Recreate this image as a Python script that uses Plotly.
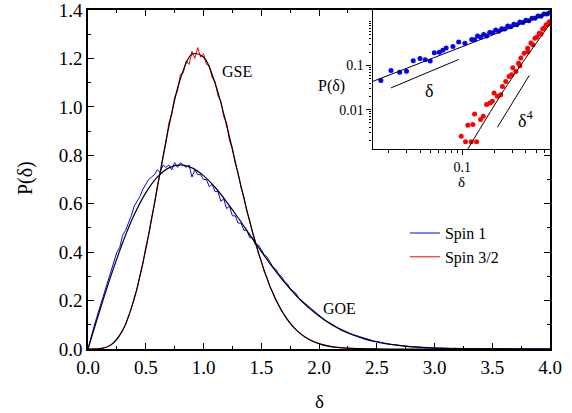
import numpy as np
import plotly.graph_objects as go

# ---------------- main panel data ----------------
bin_step = 0.025
spin1_hist = [
    0.00, 0.05, 0.09, 0.13, 0.17, 0.21, 0.25, 0.29, 0.33, 0.36,
    0.40, 0.42, 0.47, 0.49, 0.52, 0.55, 0.59, 0.61, 0.63, 0.66,
    0.68, 0.70, 0.71, 0.72, 0.74, 0.73, 0.76, 0.75, 0.76, 0.74,
    0.77, 0.75, 0.77, 0.76, 0.75, 0.76, 0.71, 0.74, 0.72, 0.72,
    0.70, 0.70, 0.67, 0.68, 0.65, 0.65, 0.61, 0.62, 0.58, 0.59,
    0.55, 0.55, 0.52, 0.52, 0.49, 0.49, 0.46, 0.46, 0.43, 0.43,
    0.41, 0.39, 0.38, 0.36, 0.34, 0.33, 0.31, 0.30, 0.28, 0.27,
    0.25, 0.24, 0.23, 0.21, 0.20, 0.19, 0.18, 0.17, 0.16, 0.148,
    0.139, 0.13, 0.12, 0.113, 0.105, 0.098, 0.092, 0.085, 0.079, 0.073,
    0.068, 0.063, 0.059, 0.055, 0.050, 0.047, 0.043, 0.039, 0.036, 0.033,
    0.031, 0.028, 0.026, 0.023, 0.021, 0.019, 0.018, 0.016, 0.015, 0.013,
    0.012, 0.011, 0.010, 0.009, 0.008, 0.007, 0.007, 0.006, 0.005, 0.005,
    0.004, 0.004, 0.004, 0.003, 0.003, 0.003, 0.002, 0.003, 0.002, 0.002,
    0.002, 0.001, 0.002, 0.001, 0.001, 0.001, 0.001, 0.001, 0.001, 0.000,
    0.001, 0.000, 0.000, 0.001, 0.000, 0.000, 0.000, 0.000, 0.000, 0.000,
    0.000, 0.000, 0.000, 0.000, 0.000, 0.000, 0.000, 0.000, 0.000, 0.000,
    0.000,
]
spin32_hist = [
    0.000, 0.000, 0.000, 0.001, 0.002, 0.004, 0.006, 0.012, 0.018, 0.030,
    0.041, 0.058, 0.080, 0.100, 0.136, 0.165, 0.212, 0.248, 0.305, 0.352,
    0.420, 0.470, 0.540, 0.595, 0.672, 0.730, 0.800, 0.850, 0.935, 0.968,
    1.040, 1.065, 1.135, 1.140, 1.190, 1.175, 1.230, 1.200, 1.245, 1.205,
    1.220, 1.175, 1.170, 1.120, 1.105, 1.045, 1.025, 0.960, 0.935, 0.860,
    0.830, 0.765, 0.728, 0.665, 0.628, 0.568, 0.532, 0.476, 0.444, 0.394,
    0.365, 0.320, 0.295, 0.256, 0.235, 0.202, 0.184, 0.157, 0.142, 0.120,
    0.108, 0.090, 0.081, 0.067, 0.060, 0.049, 0.044, 0.035, 0.031, 0.025,
    0.022, 0.018, 0.015, 0.013, 0.010, 0.009, 0.007, 0.006, 0.005, 0.004,
    0.003, 0.002, 0.002, 0.001, 0.001, 0.001, 0.001, 0.000, 0.000, 0.000,
    0.000,
]
theory_step = 0.1
goe_curve = [
    0.000, 0.156, 0.304, 0.439, 0.554, 0.645, 0.710, 0.748, 0.760, 0.748,
    0.716, 0.668, 0.608, 0.542, 0.472, 0.403, 0.337, 0.276, 0.222, 0.175,
    0.136, 0.103, 0.077, 0.057, 0.041, 0.029, 0.020, 0.014, 0.009, 0.006,
    0.004, 0.0026, 0.0016, 0.0010, 0.0006, 0.0003, 0.0002, 0.0001, 0.0, 0.0,
    0.0,
]
gse_curve = [
    0.000, 0.001, 0.017, 0.077, 0.207, 0.412, 0.665, 0.918, 1.116, 1.217,
    1.206, 1.098, 0.924, 0.722, 0.527, 0.361, 0.231, 0.140, 0.080, 0.043,
    0.022, 0.010, 0.005, 0.002, 0.001, 0.0003, 0.0, 0.0, 0.0, 0.0,
    0.0, 0.0, 0.0, 0.0, 0.0, 0.0, 0.0, 0.0, 0.0, 0.0,
    0.0,
]
main_xticks = [0.0, 0.5, 1.0, 1.5, 2.0, 2.5, 3.0, 3.5, 4.0]
main_yticks = [0.0, 0.2, 0.4, 0.6, 0.8, 1.0, 1.2, 1.4]

# ---------------- inset data (log-log) ----------------
inset_spin1_d = [0.0170, 0.0212, 0.0256, 0.0297, 0.0344, 0.0399, 0.0447, 0.0498,
                 0.0545, 0.0608, 0.0655, 0.0705, 0.0817, 0.0926, 0.106, 0.123,
                 0.1310, 0.1398, 0.1494, 0.1596, 0.1703, 0.1820, 0.1943, 0.2075,
                 0.2217, 0.2367, 0.2529, 0.2700, 0.2884, 0.3080, 0.3289, 0.3513,
                 0.3752, 0.4007, 0.4279, 0.4571, 0.4882, 0.5213, 0.5568, 0.5946,
                 0.6351, 0.6711]
inset_spin1_p = [0.0456, 0.0771, 0.0706, 0.0743, 0.128, 0.143, 0.135, 0.126,
                 0.194, 0.200, 0.220, 0.250, 0.270, 0.340, 0.320, 0.390,
                 0.382, 0.466, 0.435, 0.506, 0.468, 0.556, 0.550, 0.633,
                 0.598, 0.681, 0.674, 0.788, 0.755, 0.860, 0.838, 0.969,
                 0.944, 1.053, 1.037, 1.181, 1.181, 1.324, 1.303, 1.462,
                 1.469, 1.564]
inset_spin32_d = [0.0978, 0.1075, 0.1218, 0.1368, 0.1131, 0.1262, 0.1310, 0.1494,
                  0.1585, 0.1703, 0.1832, 0.1930, 0.2000, 0.2154, 0.2316, 0.2404,
                  0.2585, 0.2778, 0.2929, 0.3219, 0.3414, 0.3590, 0.3861, 0.4159,
                  0.4471, 0.4882, 0.5364, 0.5779, 0.6213, 0.6681,
                  0.3013, 0.3513, 0.4187, 0.4672, 0.5100, 0.5568, 0.5946, 0.6492]
inset_spin32_p = [0.00250, 0.00187, 0.00187, 0.00187, 0.00442, 0.00458, 0.0080, 0.00594,
                  0.00706, 0.0130, 0.0142, 0.0154, 0.0238, 0.0200, 0.0218, 0.0336,
                  0.0435, 0.0565, 0.0617, 0.0733, 0.113, 0.147, 0.190, 0.247,
                  0.321, 0.416, 0.539, 0.673, 0.830, 0.985,
                  0.0887, 0.0984, 0.204, 0.293, 0.444, 0.520, 0.710, 0.873]
fit1_d, fit1_p = [0.0140, 0.6711], [0.0428, 1.564]
fit32_d, fit32_p = [0.1116, 0.2683, 0.668], [0.00121, 0.0367, 0.83]
guide_lin_d, guide_lin_p = [0.0212, 0.0926], [0.031, 0.137]
guide_quart_d, guide_quart_p = [0.2154, 0.4308], [0.00398, 0.0594]

FONT = "Liberation Serif, Times New Roman, serif"
BLUE = "#0000ff"
RED = "#ff0000"

x_s1 = np.arange(len(spin1_hist)) * bin_step
x_s32 = np.arange(len(spin32_hist)) * bin_step
x_th = np.arange(len(goe_curve)) * theory_step

fig = go.Figure()
fig.add_trace(go.Scatter(x=x_s1, y=spin1_hist, mode="lines", name="Spin 1",
                         line=dict(color=BLUE, width=1)))
fig.add_trace(go.Scatter(x=x_s32, y=spin32_hist, mode="lines", name="Spin 3/2",
                         line=dict(color=RED, width=1)))
fig.add_trace(go.Scatter(x=x_th, y=goe_curve, mode="lines", showlegend=False,
                         line=dict(color="black", width=1.2, shape="spline")))
fig.add_trace(go.Scatter(x=x_th, y=gse_curve, mode="lines", showlegend=False,
                         line=dict(color="black", width=1.2, shape="spline")))

# inset
fig.add_trace(go.Scatter(x=inset_spin1_d, y=inset_spin1_p, mode="markers", showlegend=False,
                         marker=dict(color=BLUE, size=5), xaxis="x2", yaxis="y2"))
fig.add_trace(go.Scatter(x=inset_spin32_d, y=inset_spin32_p, mode="markers", showlegend=False,
                         marker=dict(color=RED, size=5), xaxis="x2", yaxis="y2"))
for dx, dy, shp in [(fit1_d, fit1_p, "linear"), (fit32_d, fit32_p, "spline"),
                    (guide_lin_d, guide_lin_p, "linear"), (guide_quart_d, guide_quart_p, "linear")]:
    fig.add_trace(go.Scatter(x=dx, y=dy, mode="lines", showlegend=False,
                             line=dict(color="black", width=1, shape=shp),
                             xaxis="x2", yaxis="y2"))

axis_common = dict(showline=True, linecolor="black", linewidth=1.5, mirror="ticks",
                   ticks="inside", tickcolor="black", showgrid=False, zeroline=False,
                   automargin=False, ticklabeloverflow="allow",
                   tickfont=dict(family=FONT, size=19, color="black"))

fig.update_layout(
    width=572, height=413, autosize=False,
    margin=dict(l=88, r=22, t=10, b=64, pad=0),
    plot_bgcolor="white", paper_bgcolor="white",
    font=dict(family=FONT, color="black"),
    xaxis=dict(range=[0, 4], tickvals=main_xticks, ticktext=[f"{v:.1f}" for v in main_xticks],
               ticklen=6, tickwidth=1.2,
               minor=dict(dtick=0.25, tick0=0, ticks="inside", ticklen=3, tickcolor="black", tickwidth=1.2),
               **axis_common),
    yaxis=dict(range=[0, 1.4], tickvals=main_yticks, ticktext=[f"{v:.1f}" for v in main_yticks],
               ticklen=6, tickwidth=1.2,
               minor=dict(dtick=0.1, tick0=0, ticks="inside", ticklen=3, tickcolor="black", tickwidth=1.2),
               **axis_common),
    xaxis2=dict(type="log", domain=[0.616, 1.0], anchor="y2", range=[-1.848, -0.169],
                showline=True, linecolor="black", linewidth=1.2, mirror=True,
                ticks="outside", ticklen=5, tickcolor="black", showgrid=False, automargin=False,
                tickvals=[0.1], ticktext=["0.1"],
                tickfont=dict(family=FONT, size=14, color="black"),
                minor=dict(tickvals=[0.02, 0.03, 0.04, 0.05, 0.06, 0.07, 0.08, 0.09,
                                     0.2, 0.3, 0.4, 0.5, 0.6],
                           ticks="outside", ticklen=3, tickcolor="black")),
    yaxis2=dict(type="log", domain=[0.589, 1.0], anchor="x2", range=[-2.90, 0.257],
                showline=True, linecolor="black", linewidth=1.2, mirror=True,
                ticks="outside", ticklen=5, tickcolor="black", showgrid=False, automargin=False,
                tickvals=[0.01, 0.1], ticktext=["0.01", "0.1"],
                tickfont=dict(family=FONT, size=14, color="black"),
                minor=dict(tickvals=[0.002, 0.003, 0.004, 0.005, 0.006, 0.007, 0.008, 0.009,
                                     0.02, 0.03, 0.04, 0.05, 0.06, 0.07, 0.08, 0.09,
                                     0.2, 0.3, 0.4, 0.5, 0.6, 0.7, 0.8, 0.9, 1.0],
                           ticks="outside", ticklen=2.5, tickcolor="black")),
    legend=dict(x=0.686, y=0.392, xanchor="left", yanchor="top",
                bgcolor="rgba(0,0,0,0)", font=dict(family=FONT, size=16, color="black"),
                tracegroupgap=0, itemwidth=30),
    showlegend=True,
)

ann = [
    dict(text="P(δ)", x=-0.135, y=0.503, textangle=-90, size=20),
    dict(text="δ", x=0.5, y=-0.156, textangle=0, size=19),
    dict(text="GSE", x=0.322, y=0.818, textangle=0, size=16),
    dict(text="GOE", x=0.545, y=0.120, textangle=0, size=16),
    dict(text="P(δ)", x=0.527, y=0.776, textangle=0, size=16),
    dict(text="δ", x=0.809, y=0.492, textangle=0, size=15),
    dict(text="δ", x=0.738, y=0.761, textangle=0, size=18),
    dict(text="δ<sup>4</sup>", x=0.946, y=0.678, textangle=0, size=18),
]
for a in ann:
    fig.add_annotation(text=a["text"], x=a["x"], y=a["y"], xref="paper", yref="paper",
                       showarrow=False, textangle=a["textangle"],
                       font=dict(family=FONT, size=a["size"], color="black"),
                       xanchor="center", yanchor="middle")

# remove the browser's default 8 px page margin so the figure sits at the window corner
fig.write_html("out.html", config={"displayModeBar": False},
               post_script="document.body.style.margin='0px';document.body.style.overflow='hidden';")
